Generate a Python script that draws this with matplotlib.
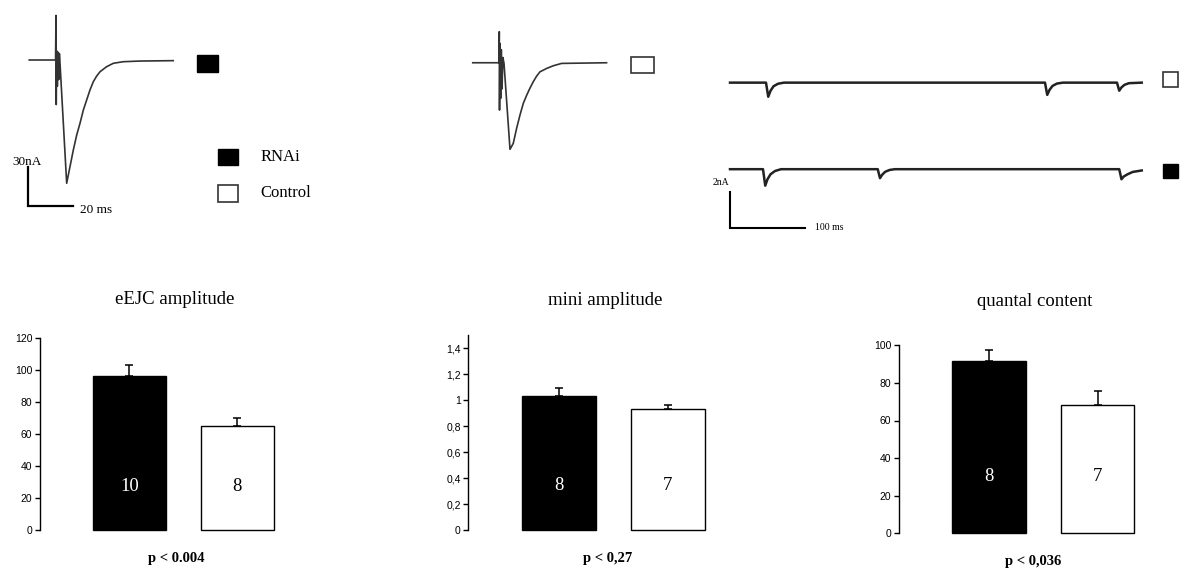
import matplotlib
matplotlib.use("Agg")
import matplotlib.pyplot as plt
from matplotlib.patches import Rectangle

# ---------------- data ----------------
groups = ["RNAi", "Control"]
bar_colors = ["black", "white"]
num_colors = ["white", "black"]

eejc_mean = [95.8, 64.6]
eejc_err = [7.0, 5.6]
eejc_n = ["10", "8"]

mini_mean = [1.03, 0.93]
mini_err = [0.065, 0.035]
mini_n = ["8", "7"]

qc_mean = [91.5, 68.4]
qc_err = [6.0, 7.3]
qc_n = ["8", "7"]

titles = ["eEJC amplitude", "mini amplitude", "quantal content"]
pvals = ["p < 0.004", "p < 0,27", "p < 0,036"]

eejc_ticks = [0, 20, 40, 60, 80, 100, 120]
mini_ticks = [0, 0.2, 0.4, 0.6, 0.8, 1.0, 1.2, 1.4]
mini_ticklabels = ["0", "0,2", "0,4", "0,6", "0,8", "1", "1,2", "1,4"]
qc_ticks = [0, 20, 40, 60, 80, 100]

# evoked traces (time ms, current nA)
rnai_evoked_t = [-11.9, -0.2, 0.0, 0.1, 0.3, 0.6, 0.9, 1.2, 1.5, 1.8, 4.74, 6.22, 7.70, 9.19,
                 10.67, 12.15, 13.63, 15.1, 16.6, 18.1, 19.6, 22.5, 25.5, 29.9, 37.3, 52.1]
rnai_evoked_i = [0, 0, 34, -34, 7, -20, 6, -15, 5, -3, -94.1, -81.4, -68.7, -57.3,
                 -48.3, -38.2, -30.5, -22.9, -16.5, -12.2, -8.9, -5.1, -2.5, -1.3, -0.8, -0.5]

ctrl_evoked_t = [-11.8, -0.2, 0.0, 0.1, 0.3, 0.6, 0.9, 1.2, 1.6, 2.1, 4.76, 6.22, 7.7, 9.2,
                 10.67, 12.2, 13.6, 15.1, 16.6, 18.1, 21.1, 24.0, 27.7, 47.7]
ctrl_evoked_i = [0, 0, 23.7, -36.1, 14.8, -27.2, 10, -20, 4, -0.5, -66.1, -61.5, -50.1, -39.9,
                 -31.0, -24.7, -19.5, -14.5, -10.2, -6.9, -4.3, -2.3, -0.5, 0]

# spontaneous (mini) traces
ctrl_mini_t = [0, 48, 51, 54, 58, 64, 72, 420, 423, 426, 430, 436, 444,
               516, 519, 522, 526, 532, 549]
ctrl_mini_i = [0, 0, -0.77, -0.45, -0.2, -0.06, 0, 0, -0.67, -0.4, -0.18, -0.05, 0,
               0, -0.44, -0.26, -0.12, -0.03, 0]
rnai_mini_t = [0, 44, 47, 50, 54, 60, 68, 197, 200, 203, 207, 213, 220,
               519, 522, 525, 530, 537, 549]
rnai_mini_i = [0, 0, -0.9, -0.55, -0.28, -0.1, 0, 0, -0.49, -0.3, -0.14, -0.04, 0,
               0, -0.55, -0.4, -0.28, -0.15, -0.07]
rnai_mini_offset = -4.73

# ---------------- figure ----------------
W, H = 1200, 570
fig = plt.figure(figsize=(12, 5.7), dpi=100)
fig.patch.set_facecolor("white")

SERIF = ["Liberation Serif", "DejaVu Serif"]
SANS = ["Liberation Sans", "DejaVu Sans"]


def ax_px(x0, y0, x1, y1):
    return fig.add_axes([x0 / W, 1 - y1 / H, (x1 - x0) / W, (y1 - y0) / H])


# --- evoked RNAi ---
a1 = ax_px(0, 0, 245, 240)
a1.set_xlim(-24.89, 84)
a1.set_ylim(-137.4, 45.8)
a1.axis("off")
a1.plot(rnai_evoked_t, rnai_evoked_i, color="#333333", lw=1.2)
a1.add_patch(Rectangle((62.5, -8.9), 9.6, 12.7, facecolor="black", edgecolor="black", lw=1, clip_on=False))
a1.add_patch(Rectangle((72, -80.2), 8.9, 12.3, facecolor="black", edgecolor="black", lw=1, clip_on=False))
a1.add_patch(Rectangle((72, -108.2), 8.9, 12.8, facecolor="white", edgecolor="#333333", lw=1.2, clip_on=False))
a1.text(90.7, -73.8, "RNAi", family=SERIF, fontsize=12, ha="left", va="center", clip_on=False)
a1.text(90.7, -101.3, "Control", family=SERIF, fontsize=12, ha="left", va="center", clip_on=False)
a1.plot([-12.3, -12.3, 7.7], [-81.5, -111.5, -111.5], color="black", lw=1.6, solid_joinstyle="miter")
a1.text(-12.75, -78.0, "30nA", family=SERIF, fontsize=9.5, ha="center", va="center")
a1.text(10.7, -114.5, "20 ms", family=SERIF, fontsize=9.5, ha="left", va="center")

# --- evoked Control ---
a2 = ax_px(460, 0, 670, 240)
a2.set_xlim(-17.47, 75.9)
a2.set_ylim(-135.3, 47.9)
a2.axis("off")
a2.plot(ctrl_evoked_t, ctrl_evoked_i, color="#333333", lw=1.2)
a2.add_patch(Rectangle((58.4, -7.6), 10.4, 12.2, facecolor="white", edgecolor="#333333", lw=1.2, clip_on=False))

# --- minis ---
a3 = ax_px(700, 40, 1200, 240)
a3.set_xlim(-40, 626.7)
a3.set_ylim(-8.6, 2.33)
a3.axis("off")
a3.plot(ctrl_mini_t, ctrl_mini_i, color="#222222", lw=1.8)
a3.plot(rnai_mini_t, [v + rnai_mini_offset for v in rnai_mini_i], color="#222222", lw=1.8)
a3.add_patch(Rectangle((576.9, -0.25), 20.8, 0.85, facecolor="white", edgecolor="#333333", lw=1.2, clip_on=False))
a3.add_patch(Rectangle((576.9, -5.22), 20.8, 0.78, facecolor="black", edgecolor="black", lw=1, clip_on=False))
a3.plot([0, 0, 100], [-5.96, -7.96, -7.96], color="black", lw=1.5, solid_joinstyle="miter")
a3.text(-12.4, -5.46, "2nA", family=SERIF, fontsize=7, ha="center", va="center")
a3.text(113.3, -7.94, "100 ms", family=SERIF, fontsize=7, ha="left", va="center")


# --- bar charts ---
def bar_panel(rect, xlim, ylim, means, errs, ns, ticks, ticklabels, title, title_y, pval, p_y, ny, tx, pxp):
    ax = ax_px(*rect)
    x = [0, 1]
    bars = ax.bar(x, means, width=0.675, color=bar_colors, edgecolor="black", linewidth=1.0, zorder=2)
    for b in bars:
        b.set_clip_on(False)
    ax.errorbar(x, means, yerr=[[0, 0], errs], fmt="none", ecolor="black", elinewidth=1.1,
                capsize=3.2, capthick=1.1, zorder=1)
    ax.set_xlim(*xlim)
    ax.set_ylim(*ylim)
    for s in ["top", "right", "bottom"]:
        ax.spines[s].set_visible(False)
    ax.spines["left"].set_linewidth(1.0)
    ax.set_xticks([])
    ax.set_yticks(ticks)
    ax.set_yticklabels(ticklabels if ticklabels else [str(t) for t in ticks])
    ax.tick_params(axis="y", direction="out", length=3.5, width=1, labelsize=7.5, pad=2)
    for lab in ax.get_yticklabels():
        lab.set_family(SANS)
    for xi, n, c in zip(x, ns, num_colors):
        ax.text(xi, ny, n, family=SERIF, fontsize=13.5, color=c, ha="center", va="center", zorder=3)
    ax.text(tx, title_y, title, family=SERIF, fontsize=13.5, ha="center", va="center", clip_on=False)
    ax.text(pxp, p_y, pval, family=SERIF, fontsize=10.5, fontweight="bold", ha="center", va="center",
            clip_on=False)
    ax.patch.set_alpha(0)
    return ax


bar_panel((40, 337.7, 290, 530), (-0.828, 1.489), (0, 120), eejc_mean, eejc_err, eejc_n,
          eejc_ticks, None, titles[0], 143.6, pvals[0], -17.5, 26.9, 0.42, 0.433)
bar_panel((468.3, 335.3, 720, 530), (-0.828, 1.477), (0, 1.5), mini_mean, mini_err, mini_n,
          mini_ticks, mini_ticklabels, titles[1], 1.767, pvals[1], -0.216, 0.34, 0.43, 0.45)
bar_panel((899, 345.3, 1150, 533.3), (-0.828, 1.481), (0, 100), qc_mean, qc_err, qc_n,
          qc_ticks, None, titles[2], 123.2, pvals[2], -15.1, 30.1, 0.42, 0.405)

fig.savefig("out.png", dpi=100, facecolor="white")
